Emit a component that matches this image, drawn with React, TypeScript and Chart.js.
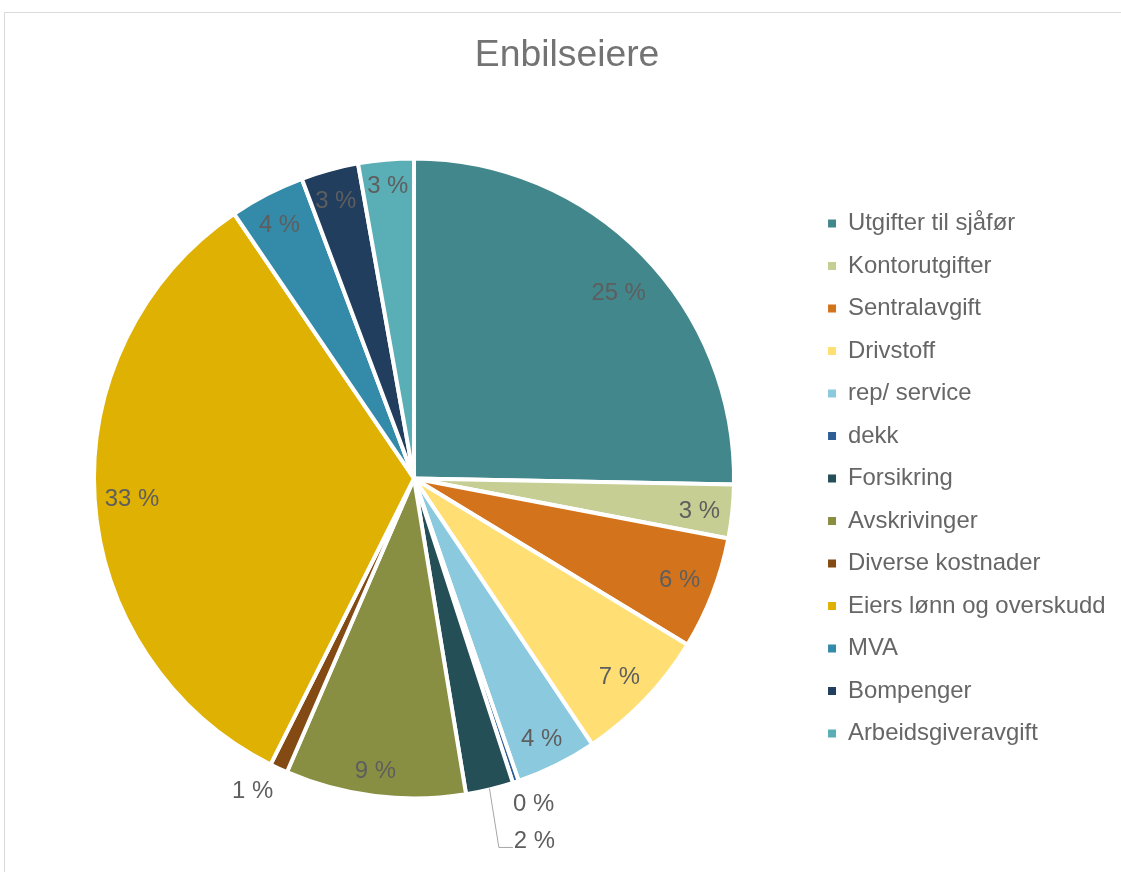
import React, { useEffect, useRef } from 'react';
import { Chart, registerables } from 'chart.js';

Chart.register(...registerables);

const FONT = '"Liberation Sans", Arial, Helvetica, sans-serif';

const TITLE = 'Enbilseiere';

const categories = [
  'Utgifter til sjåfør',
  'Kontorutgifter',
  'Sentralavgift',
  'Drivstoff',
  'rep/ service',
  'dekk',
  'Forsikring',
  'Avskrivinger',
  'Diverse kostnader',
  'Eiers lønn og overskudd',
  'MVA',
  'Bompenger',
  'Arbeidsgiveravgift',
];

// share of total cost, in percent
const values = [25.3, 2.7, 5.7, 6.9, 4.1, 0.3, 2.4, 9.1, 0.9, 33.1, 3.8, 2.9, 2.8];

const colors = [
  '#42878c',
  '#c6ce93',
  '#d3741d',
  '#ffdf74',
  '#8bc9de',
  '#2f5e97',
  '#254f56',
  '#888f42',
  '#834b13',
  '#deb103',
  '#348aa9',
  '#213e5e',
  '#5aaeb5',
];

// label placement: radial fraction of the visible radius, and angle shift (deg)
const labelRadius = [0.868, 0.903, 0.895, 0.9, 0.913, 1.093, 1.201, 0.93, 1.106, 0.889, 0.902, 0.904, 0.921];
const labelAngleShift = [2.3, 0.6, 0, 0.4, 0.4, -1.6, -4.7, 0.5, 2.3, -0.4, -0.6, -0.5, -0.1];
const labelLeader = [false, false, false, false, false, false, true, false, false, false, false, false, false];

const BORDER_W = 4;
const LABEL_SIZE = 23.9;
const LABEL_COLOR = '#5e5e5e';

const sliceLabelPlugin = {
  id: 'sliceLabels',
  afterDatasetsDraw(chart: any) {
    const ctx = chart.ctx as CanvasRenderingContext2D;
    const meta = chart.getDatasetMeta(0);
    const data = chart.data.datasets[0].data as number[];
    const total = data.reduce((a, b) => a + b, 0);
    ctx.save();
    ctx.font = `${LABEL_SIZE}px ${FONT}`;
    ctx.textAlign = 'center';
    ctx.textBaseline = 'middle';
    meta.data.forEach((el: any, i: number) => {
      const p = el.getProps(['x', 'y', 'startAngle', 'endAngle', 'outerRadius'], true);
      const R = p.outerRadius - BORDER_W / 2;
      const midBase = (p.startAngle + p.endAngle) / 2;
      const mid = midBase + (labelAngleShift[i] * Math.PI) / 180;
      const r = R * labelRadius[i];
      const lx = p.x + Math.cos(mid) * r;
      const ly = p.y + Math.sin(mid) * r;
      const text = `${Math.round((data[i] / total) * 100)} %`;
      if (labelLeader[i]) {
        const w = ctx.measureText(text).width;
        const left = lx - w / 2;
        const sx = p.x + Math.cos(midBase) * (R + 1);
        const sy = p.y + Math.sin(midBase) * (R + 1);
        ctx.strokeStyle = '#a6a6a6';
        ctx.lineWidth = 1;
        ctx.beginPath();
        ctx.moveTo(sx, sy);
        ctx.lineTo(left - 15, ly + 6.5);
        ctx.lineTo(left - 1, ly + 6.5);
        ctx.stroke();
      }
      ctx.fillStyle = LABEL_COLOR;
      ctx.fillText(text, lx, ly);
    });
    ctx.restore();
  },
};

export default function App() {
  const canvasRef = useRef<HTMLCanvasElement | null>(null);

  useEffect(() => {
    if (!canvasRef.current) return;
    const pieOverrides: any = (Chart as any).overrides.pie;
    const chart = new Chart(canvasRef.current, {
      type: 'pie',
      data: {
        labels: categories,
        datasets: [
          {
            data: values,
            backgroundColor: colors,
            borderColor: '#ffffff',
            borderWidth: BORDER_W,
            hoverBorderWidth: BORDER_W,
            hoverOffset: 0,
          },
        ],
      },
      options: {
        responsive: false,
        animation: false,
        events: [],
        layout: { padding: { left: 18.6, right: 5.4, top: 0, bottom: 71.5 } },
        plugins: {
          tooltip: { enabled: false },
          title: {
            display: true,
            text: TITLE,
            color: '#737373',
            font: { family: FONT, size: 37.3, weight: 'normal' as any },
            padding: { top: 33.5, bottom: 78.2 },
          },
          legend: {
            position: 'right',
            fullSize: false,
            labels: {
              color: '#666666',
              font: { family: FONT, size: 23.9 },
              boxWidth: 8,
              boxHeight: 8,
              padding: 18.6,
              generateLabels: (c: any) =>
                pieOverrides.plugins.legend.labels
                  .generateLabels(c)
                  .map((l: any) => ({ ...l, lineWidth: 0, strokeStyle: 'rgba(0,0,0,0)' })),
            },
          },
        },
      } as any,
      plugins: [sliceLabelPlugin],
    });
    return () => chart.destroy();
  }, []);

  return (
    <div
      style={{
        position: 'fixed',
        left: 0,
        top: 0,
        width: 1121,
        height: 872,
        overflow: 'hidden',
        background: '#ffffff',
      }}
    >
      <div
        style={{
          position: 'absolute',
          left: 4,
          top: 12,
          width: 1300,
          height: 1000,
          border: '1px solid #d9d9d9',
          boxSizing: 'border-box',
        }}
      />
      <canvas
        ref={canvasRef}
        width={1121}
        height={872}
        style={{ position: 'absolute', left: 0, top: 0, width: 1121, height: 872 }}
      />
    </div>
  );
}
